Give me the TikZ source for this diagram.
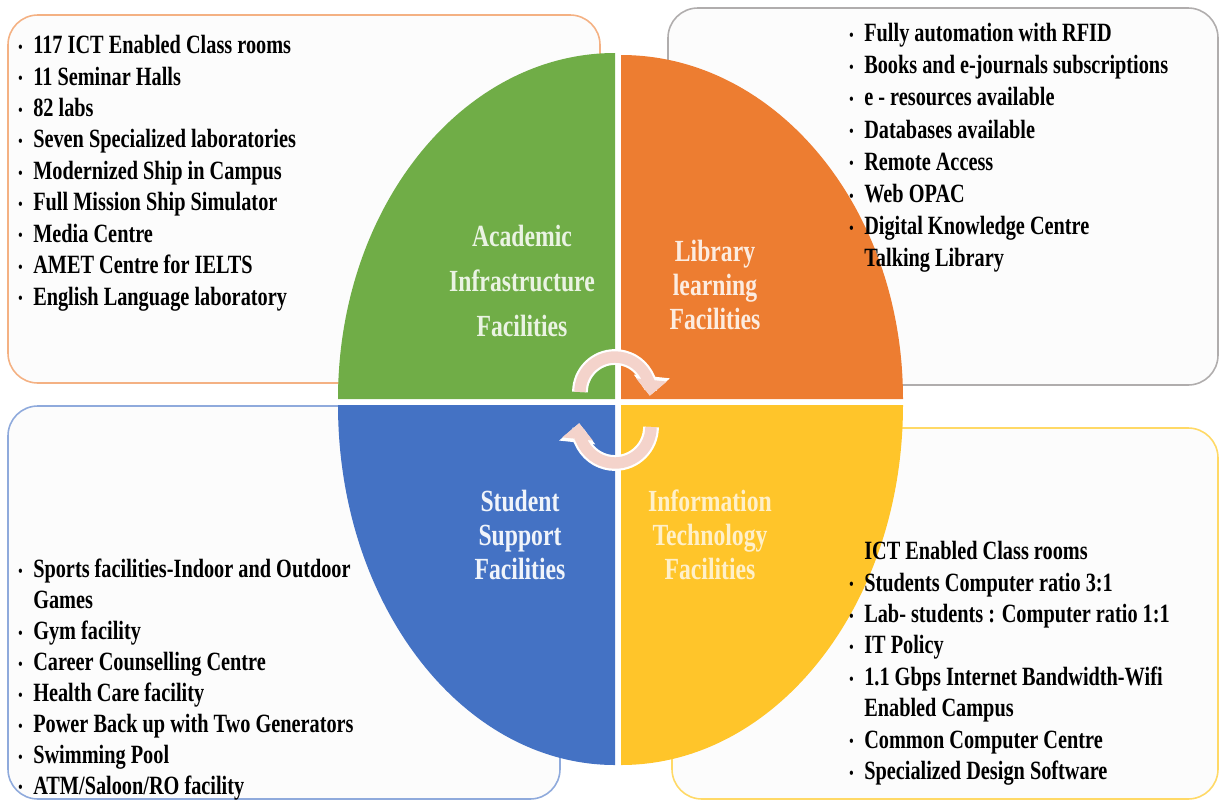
\documentclass[tikz,border=0pt]{standalone}
\usepackage{fontspec}
\setmainfont{Liberation Serif}
\newfontfamily\narrowfont{Liberation Serif}[FakeStretch=0.77]
\usetikzlibrary{arrows.meta}

\definecolor{acadgreen}{HTML}{70AD47}
\definecolor{liborange}{HTML}{ED7D31}
\definecolor{studblue}{HTML}{4472C4}
\definecolor{ityellow}{HTML}{FFC52A}
\definecolor{acadline}{HTML}{F4B183}
\definecolor{libline}{HTML}{B0ADAD}
\definecolor{studline}{HTML}{8FAADC}
\definecolor{itline}{HTML}{FFD966}
\definecolor{boxfill}{HTML}{FCFCFC}
\definecolor{cyclepink}{HTML}{F4D3CB}

\newcommand{\bul}{\makebox[8.5pt][l]{\raisebox{0.8pt}{\small\textbullet}}}
\newcommand{\nob}{\hspace*{8.5pt}}

\begin{document}
\begin{tikzpicture}[x=0.02cm, y=-0.02cm,
    infobox/.style={rounded corners=17pt, line width=0.9pt, fill=boxfill},
    listtext/.style={anchor=north west, inner sep=0pt, align=left, text=black,
      font=\narrowfont\bfseries\fontsize{15}{17.9}\selectfont},
    quadtext/.style={align=center, inner sep=0pt,
      font=\narrowfont\bfseries\fontsize{17.5}{19.3}\selectfont},
    cyclearrow/.style={line width=6.5pt, cyclepink, -{Triangle[width=17pt,length=9pt]}}]

      \useasboundingbox (0,0) rectangle (1221,802);

      % four boxes behind the oval:
      %     1111111111        2222222222
      %     3333333333        4444444444
      \draw[infobox, draw=acadline] (8,15) rectangle (600,383);
      \draw[infobox, draw=libline] (668,8) rectangle (1218,385);
      \draw[infobox, draw=studline] (8,406) rectangle (560,799);
      \draw[infobox, draw=itline] (672,428) rectangle (1218,799);

      % the oval, cut in four quarters with a white gap
      \fill[acadgreen] (615,399) -- (615,53)
        arc[start angle=270, end angle=180, x radius=277, y radius=346] -- cycle;
      \fill[liborange] (621,399) -- (621,55)
        arc[start angle=270, end angle=360, x radius=282, y radius=344] -- cycle;
      \fill[studblue] (615,405) -- (338,405)
        arc[start angle=180, end angle=90, x radius=277, y radius=360] -- cycle;
      \fill[ityellow] (621,405) -- (903,405)
        arc[start angle=0, end angle=90, x radius=282, y radius=360] -- cycle;

      % cycle arrows in the middle
      \coordinate (uparrow) at (580,392);
      \coordinate (downarrow) at (651,427);
      \draw[cyclearrow, white, line width=9pt, -{Triangle[width=20pt,length=11pt]}]
        (uparrow) arc[start angle=180, end angle=366, radius=35];
      \draw[cyclearrow] (uparrow) arc[start angle=180, end angle=366, radius=35];
      \draw[cyclearrow, white, line width=9pt, -{Triangle[width=20pt,length=11pt]}]
        (downarrow) arc[start angle=0, end angle=186, radius=36];
      \draw[cyclearrow] (downarrow) arc[start angle=0, end angle=186, radius=36];

      % labels in the quarters
      \node[quadtext, text=acadgreen!15!white,
        font=\narrowfont\bfseries\fontsize{17.5}{25.5}\selectfont]
        (acadlabel) at (522,281) {Academic\\Infrastructure\\Facilities};
      \node[quadtext, text=liborange!15!white] (liblabel) at (715,285)
        {Library\\learning\\Facilities};
      \node[quadtext, text=studblue!8!white] (studlabel) at (520,535)
        {Student\\Support\\Facilities};
      \node[quadtext, text=ityellow!25!white] (itlabel) at (710,535)
        {Information\\Technology\\Facilities};

      % lists in the boxes
      \node[listtext] (acadlist) at (18,35) {%
        \bul 117 ICT Enabled Class rooms\\
        \bul 11 Seminar Halls\\
        \bul 82 labs\\
        \bul Seven Specialized laboratories\\
        \bul Modernized Ship in Campus\\
        \bul Full Mission Ship Simulator\\
        \bul Media Centre\\
        \bul AMET Centre for IELTS\\
        \bul English Language laboratory};

      \node[listtext, font=\narrowfont\bfseries\fontsize{15}{18.3}\selectfont]
        (liblist) at (849,23) {%
        \bul Fully automation with RFID\\
        \bul Books and e-journals subscriptions\\
        \bul e - resources available\\
        \bul Databases available\\
        \bul Remote Access\\
        \bul Web OPAC\\
        \bul Digital Knowledge Centre\\
        \nob Talking Library};

      \node[listtext, font=\narrowfont\bfseries\fontsize{15}{17.6}\selectfont]
        (studlist) at (18,559) {%
        \bul Sports facilities-Indoor and Outdoor\\
        \nob Games\\
        \bul Gym facility\\
        \bul Career Counselling Centre\\
        \bul Health Care facility\\
        \bul Power Back up with Two Generators\\
        \bul Swimming Pool\\
        \bul ATM/Saloon/RO facility};

      \node[listtext] (itlist) at (849,541) {%
        \nob ICT Enabled Class rooms\\
        \bul Students Computer ratio 3:1\\
        \bul Lab- students : Computer ratio 1:1\\
        \bul IT Policy\\
        \bul 1.1 Gbps Internet Bandwidth-Wifi\\
        \nob Enabled Campus\\
        \bul Common Computer Centre\\
        \bul Specialized Design Software};

\end{tikzpicture}
\end{document}
